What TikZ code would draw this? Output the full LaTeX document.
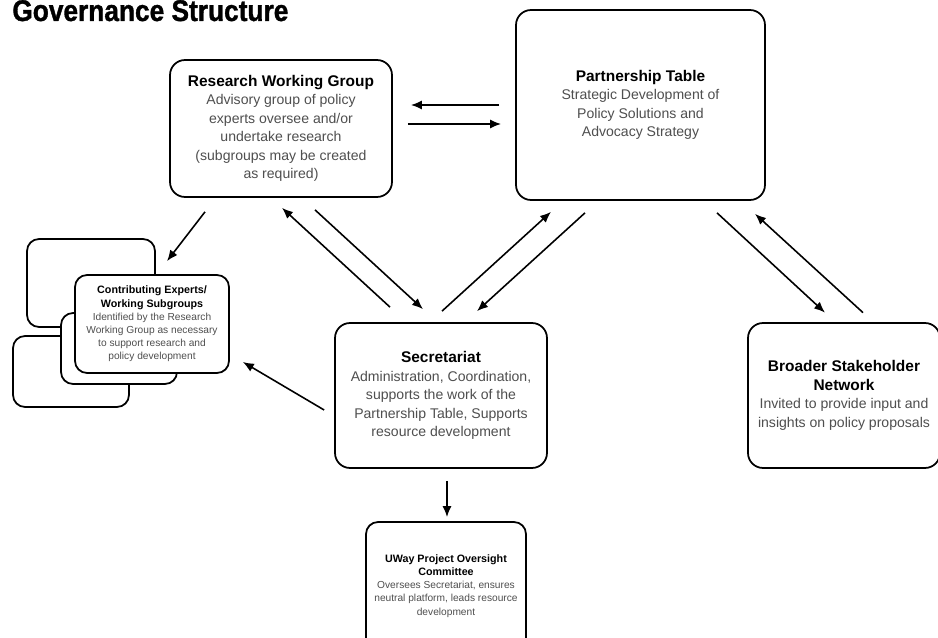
\documentclass[tikz,border=0pt]{standalone}
\usepackage{fontspec}
\setmainfont{Liberation Sans}
\newfontfamily\titlefont[BoldFont={Liberation Sans Bold},BoldFeatures={FakeBold=1.2,FakeStretch=0.88}]{Liberation Sans}
\usepackage{xcolor}
\usetikzlibrary{arrows.meta,calc}
\definecolor{bodygrey}{HTML}{4F4F4F}
\newcommand{\boxhead}[1]{{\color{black}\fontsize{8.8}{10.5}\selectfont\bfseries #1}}
\newcommand{\smallhead}[1]{{\color{black}\fontsize{6.1}{7.5}\selectfont\bfseries #1}}

\begin{document}
\begin{tikzpicture}[x=0.02cm,y=-0.02cm,
  box/.style={draw, line width=1pt, rounded corners=0.3cm, fill=white, align=center,
    text=bodygrey, inner sep=2pt, font=\fontsize{8}{10.5}\selectfont},
  smallbox/.style={box, rounded corners=0.24cm, font=\fontsize{5.8}{7.5}\selectfont},
  link/.style={-{Latex[length=2.2mm,width=1.8mm]}, line width=0.9pt}]
% page frame
\useasboundingbox (0,0) rectangle (938,638);
\clip (0,0) rectangle (938,638);

% title
\node[anchor=base west, inner sep=0pt, font=\titlefont\fontsize{17}{18}\selectfont\bfseries] (title) at (12,21) {Governance Structure};

% main boxes
\node[box, minimum width=4.44cm, minimum height=2.74cm] (rwg) at (281,128.5)
  {\boxhead{Research Working Group}\\ Advisory group of policy\\ experts oversee and/or\\ undertake research\\ (subgroups may be created\\ as required)};
\node[box, minimum width=4.98cm, minimum height=3.8cm] (pt) at (640.5,105)
  {\boxhead{Partnership Table}\\ Strategic Development of\\ Policy Solutions and\\ Advocacy Strategy};
\node[box, minimum width=4.24cm, minimum height=2.9cm] (sec) at (441,395.5)
  {\boxhead{Secretariat}\\ Administration, Coordination,\\ supports the work of the\\ Partnership Table, Supports\\ resource development};
\node[box, minimum width=3.84cm, minimum height=2.9cm] (bsn) at (844,395.5)
  {\boxhead{Broader Stakeholder}\\ \boxhead{Network}\\ Invited to provide input and\\ insights on policy proposals};
\node[smallbox, minimum width=3.2cm, minimum height=2.56cm] (uway) at (446,586)
  {\smallhead{UWay Project Oversight}\\ \smallhead{Committee}\\ Oversees Secretariat, ensures\\ neutral platform, leads resource\\ development};

% stack of subgroup boxes
\node[smallbox, minimum width=2.56cm, minimum height=1.76cm] (cb1) at (91,283) {};
\node[smallbox, minimum width=2.32cm, minimum height=1.42cm] (cb3) at (71,371.5) {};
\node[smallbox, minimum width=2.32cm, minimum height=1.42cm] (cb2) at (119,348.5) {};
\node[smallbox, minimum width=3.08cm, minimum height=1.96cm] (ce) at (152,324)
  {\smallhead{Contributing Experts/}\\ \smallhead{Working Subgroups}\\ Identified by the Research\\ Working Group as necessary\\ to support research and\\ policy development};

% arrows between research group and partnership table
\draw[link] ($(pt.west)+(-16,0)$) -- ($(rwg.east)+(18,-23.5)$);
\draw[link] ($(rwg.east)+(15,-4.5)$) -- ($(pt.west)+(-14,19)$);

% arrows around the secretariat
\draw[link] ($(rwg.south)+(-76,14)$) -- ($(ce.north)+(15,-13)$);
\draw[link] ($(sec.north)+(-51,-15)$) -- ($(rwg.south)+(1,10)$);
\draw[link] ($(rwg.south)+(34,12)$) -- ($(sec.north)+(-18,-13)$);
\draw[link] ($(sec.north)+(1,-11)$) -- ($(pt.south)+(-89.5,11)$);
\draw[link] ($(pt.south)+(-55.5,12)$) -- ($(sec.north)+(36,-11)$);
\draw[link] ($(sec.west)+(-10,14.5)$) -- ($(ce.east)+(13,38)$);
\draw[link] ($(sec.south)+(6,12)$) -- ($(uway.north)+(1,-4)$);

% arrows to the stakeholder network
\draw[link] ($(pt.south)+(76.5,12)$) -- ($(bsn.north)+(-19,-9.5)$);
\draw[link] ($(bsn.north)+(19,-9.5)$) -- ($(pt.south)+(114.5,13)$);
\end{tikzpicture}
\end{document}
